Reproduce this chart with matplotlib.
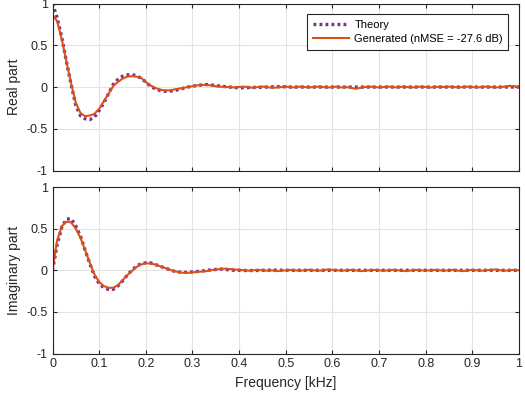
import numpy as np
import matplotlib.pyplot as plt

plt.rcParams['font.family'] = ['Liberation Sans', 'DejaVu Sans']

# frequency grid in kHz (read at 0.01 steps)
freq = np.round(np.arange(0, 1.001, 0.01), 2)

# theory curve, read up to 0.50 kHz, flat afterwards
theory_real_head = [1.00, 0.83, 0.59, 0.30, 0.03, -0.22, -0.345, -0.38, -0.39, -0.36,
                    -0.28, -0.19, -0.08, 0.03, 0.09, 0.13, 0.145, 0.15, 0.135, 0.105,
                    0.06, 0.01, -0.02, -0.04, -0.05, -0.05, -0.045, -0.03, -0.015, 0.0,
                    0.01, 0.02, 0.025, 0.03, 0.025, 0.02, 0.01, 0.005, 0.0, -0.005,
                    -0.01, -0.008, -0.006, -0.005, -0.004, -0.002, 0.0, 0.002, 0.004, 0.004,
                    0.003]
theory_imag_head = [0.0, 0.31, 0.52, 0.615, 0.62, 0.53, 0.41, 0.24, 0.08, -0.07,
                    -0.16, -0.21, -0.23, -0.23, -0.19, -0.13, -0.06, 0.0, 0.05, 0.08,
                    0.09, 0.09, 0.07, 0.05, 0.03, 0.01, -0.01, -0.02, -0.025, -0.025,
                    -0.02, -0.015, -0.01, 0.0, 0.005, 0.01, 0.015, 0.01, 0.005, 0.0,
                    0.0, -0.002, -0.003, -0.003, -0.002, 0.0, 0.001, 0.002, 0.002, 0.001,
                    0.0]
theory_real = theory_real_head + [0.0] * (len(freq) - len(theory_real_head))
theory_imag = theory_imag_head + [0.0] * (len(freq) - len(theory_imag_head))

gen_real = [0.86, 0.79, 0.57, 0.30, 0.04, -0.19, -0.31, -0.35, -0.34, -0.32,
            -0.26, -0.17, -0.08, 0.01, 0.06, 0.10, 0.125, 0.13, 0.125, 0.11,
            0.06, 0.02, -0.01, -0.03, -0.04, -0.04, -0.03, -0.02, -0.01, 0.0,
            0.01, 0.02, 0.025, 0.025, 0.02, 0.01, 0.005, 0.0, 0.0, -0.005,
            0.0, 0.005, 0.0, -0.01, 0.0, 0.005, 0.0, -0.01, -0.005, 0.0,
            0.005, 0.0, -0.005, 0.005, 0.0, -0.005, 0.0, 0.005, 0.0, -0.005,
            0.0, 0.005, -0.005, 0.0, -0.01, -0.02, -0.01, 0.0, 0.005, 0.0,
            -0.005, 0.0, 0.005, 0.0, -0.005, 0.005, 0.0, -0.005, 0.0, 0.005,
            0.0, -0.005, 0.0, 0.005, 0.0, 0.005, 0.0, -0.005, 0.0, 0.005,
            0.0, -0.005, 0.0, 0.005, 0.0, -0.005, 0.0, 0.005, 0.015, 0.01,
            0.0]
gen_imag = [0.0, 0.36, 0.53, 0.585, 0.575, 0.50, 0.39, 0.24, 0.09, -0.05,
            -0.14, -0.19, -0.21, -0.21, -0.18, -0.12, -0.06, -0.01, 0.04, 0.07,
            0.085, 0.08, 0.07, 0.05, 0.03, 0.01, -0.01, -0.02, -0.03, -0.03,
            -0.025, -0.02, -0.015, -0.01, 0.0, 0.01, 0.015, 0.02, 0.015, 0.01,
            0.005, 0.0, -0.005, 0.0, 0.005, 0.0, -0.005, 0.0, -0.01, -0.005,
            0.0, 0.005, 0.0, -0.005, 0.0, 0.005, 0.0, -0.005, 0.0, 0.01,
            0.005, 0.0, -0.005, 0.0, 0.005, 0.0, -0.01, -0.005, 0.0, 0.005,
            0.0, -0.005, 0.0, 0.005, 0.0, -0.005, -0.01, 0.0, 0.005, 0.0,
            -0.005, 0.0, 0.005, 0.0, -0.005, 0.0, 0.005, -0.005, -0.01, 0.0,
            0.005, 0.0, -0.005, 0.0, 0.005, 0.01, 0.0, -0.005, 0.0, 0.005,
            0.0]

theory_color = (0.494, 0.184, 0.556)
gen_color = (0.85, 0.325, 0.098)

fig = plt.figure(figsize=(5.25, 3.93), dpi=100)
ax1 = fig.add_axes([0.1, 0.566, 0.8886, 0.425])
ax2 = fig.add_axes([0.1, 0.1005, 0.8886, 0.4235])

for ax, th, gen, lab in [(ax1, theory_real, gen_real, 'Real part'),
                         (ax2, theory_imag, gen_imag, 'Imaginary part')]:
    ax.plot(freq, th, color=theory_color, linewidth=2.4, linestyle=(0, (0.85, 0.95)),
            dash_capstyle='butt', label='Theory')
    ax.plot(freq, gen, '-', color=gen_color, linewidth=1.5,
            label='Generated (nMSE = -27.6 dB)')
    ax.set_xlim(0, 1)
    ax.set_ylim(-1, 1)
    ax.set_xticks(np.arange(0, 1.01, 0.1))
    ax.set_yticks([-1, -0.5, 0, 0.5, 1])
    ax.set_yticklabels(['-1', '-0.5', '0', '0.5', '1'])
    ax.grid(True, color='#e3e3e3', linewidth=0.8)
    ax.set_axisbelow(True)
    ax.tick_params(direction='in', top=True, right=True, length=3,
                   labelsize=9, color='#262626', labelcolor='#262626')
    for s in ax.spines.values():
        s.set_color('#262626')
        s.set_linewidth(0.8)
    ax.set_ylabel(lab, fontsize=10, color='#262626')

ax1.set_xticklabels([])
ax2.set_xticklabels(['0', '0.1', '0.2', '0.3', '0.4', '0.5', '0.6', '0.7', '0.8', '0.9', '1'])
ax2.set_xlabel('Frequency [kHz]', fontsize=10, color='#262626')

leg = ax1.legend(loc='upper right', fontsize=8, frameon=True, fancybox=False,
                 framealpha=1, edgecolor='#262626', handlelength=3.3,
                 handletextpad=0.45, borderaxespad=0.95, borderpad=0.5,
                 labelspacing=0.4)
leg.get_frame().set_linewidth(0.8)

fig.savefig('out.png', dpi=100)
